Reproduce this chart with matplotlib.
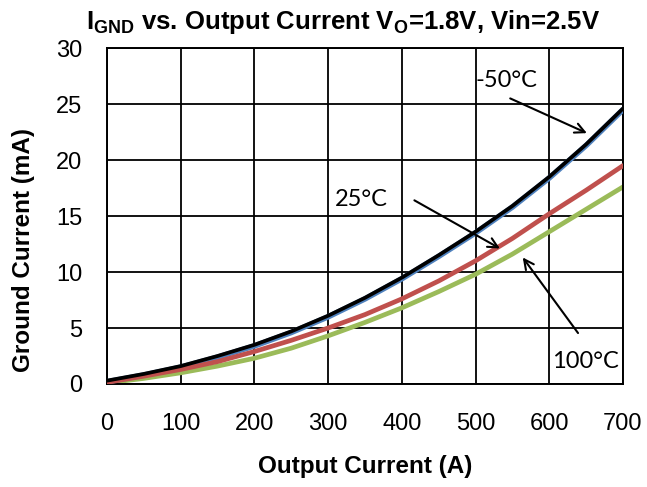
import matplotlib
matplotlib.use("Agg")
import matplotlib.pyplot as plt

plt.rcParams["font.family"] = ["Liberation Sans", "DejaVu Sans"]
plt.rcParams["mathtext.fontset"] = "custom"
plt.rcParams["mathtext.rm"] = "Liberation Sans"
plt.rcParams["mathtext.bf"] = "Liberation Sans:bold"
plt.rcParams["mathtext.default"] = "bf"

# output current (A)
current = [0, 50, 100, 150, 200, 250, 300, 350, 400, 450, 500, 550, 600, 650, 700]
# ground current (mA) per temperature
ignd_m50 = [0.3, 0.9, 1.6, 2.5, 3.5, 4.7, 6.1, 7.7, 9.5, 11.5, 13.6, 15.9, 18.5, 21.4, 24.6]
ignd_m50_b = [0.2, 0.8, 1.5, 2.4, 3.4, 4.6, 6.0, 7.6, 9.4, 11.4, 13.5, 15.8, 18.4, 21.3, 24.5]
ignd_25 = [0.15, 0.7, 1.3, 2.0, 2.9, 3.9, 5.0, 6.2, 7.6, 9.2, 11.0, 13.0, 15.2, 17.3, 19.5]
ignd_100 = [0.1, 0.5, 1.0, 1.6, 2.3, 3.2, 4.3, 5.5, 6.8, 8.25, 9.8, 11.6, 13.6, 15.6, 17.6]

xticks = [0, 100, 200, 300, 400, 500, 600, 700]
yticks = [0, 5, 10, 15, 20, 25, 30]

fig = plt.figure(figsize=(6.47, 4.87), dpi=100)
ax = fig.add_axes([0.1654, 0.2115, 0.7975, 0.6899])

ax.plot(current, ignd_m50_b, color="#4f81bd", lw=4.0, solid_capstyle="round", zorder=3)
ax.plot(current, ignd_m50, color="black", lw=2.7, solid_capstyle="round", zorder=4)
ax.plot(current, ignd_25, color="#c0504d", lw=3.4, solid_capstyle="round", zorder=3)
ax.plot(current, ignd_100, color="#9bbb59", lw=3.4, solid_capstyle="round", zorder=2)

ax.set_xlim(0, 700)
ax.set_ylim(0, 30)
ax.set_xticks(xticks)
ax.set_yticks(yticks)
ax.grid(True, color="black", lw=1.3)
ax.set_axisbelow(True)
for sp in ax.spines.values():
    sp.set_color("black")
    sp.set_linewidth(1.4)
ax.tick_params(axis="both", length=0, labelsize=17)
ax.tick_params(axis="x", pad=21)
ax.tick_params(axis="y", pad=18)

ax.set_xlabel("Output Current (A)", fontsize=17.5, fontweight="bold")
ax.xaxis.set_label_coords(0.5, -0.21)
ax.set_ylabel("Ground Current (mA)", fontsize=17.5, fontweight="bold")
ax.yaxis.set_label_coords(-0.14, 0.40)

fig.text(0.53, 0.955, r"I$_{GND}$ vs. Output Current V$_{O}$=1.8V, Vin=2.5V",
         ha="center", va="center", fontsize=18.5, fontweight="bold")

# annotations
ann_font = dict(fontsize=17, family=["Lato", "DejaVu Sans"], va="center", ha="left")
arrow = dict(arrowstyle="->,head_length=0.7,head_width=0.35", color="black", lw=1.5,
             shrinkA=0, shrinkB=0)
ax.text(500, 27.1, "-50°C", **ann_font)
ax.annotate("", xy=(651, 22.4), xytext=(547, 25.5), arrowprops=arrow)
ax.text(309, 16.5, "25°C", **ann_font)
ax.annotate("", xy=(533, 12.1), xytext=(417, 16.4), arrowprops=arrow)
ax.text(604, 2.0, "100°C", **ann_font)
ax.annotate("", xy=(564, 11.3), xytext=(639, 4.55), arrowprops=arrow)

fig.savefig("out.png", dpi=100)
